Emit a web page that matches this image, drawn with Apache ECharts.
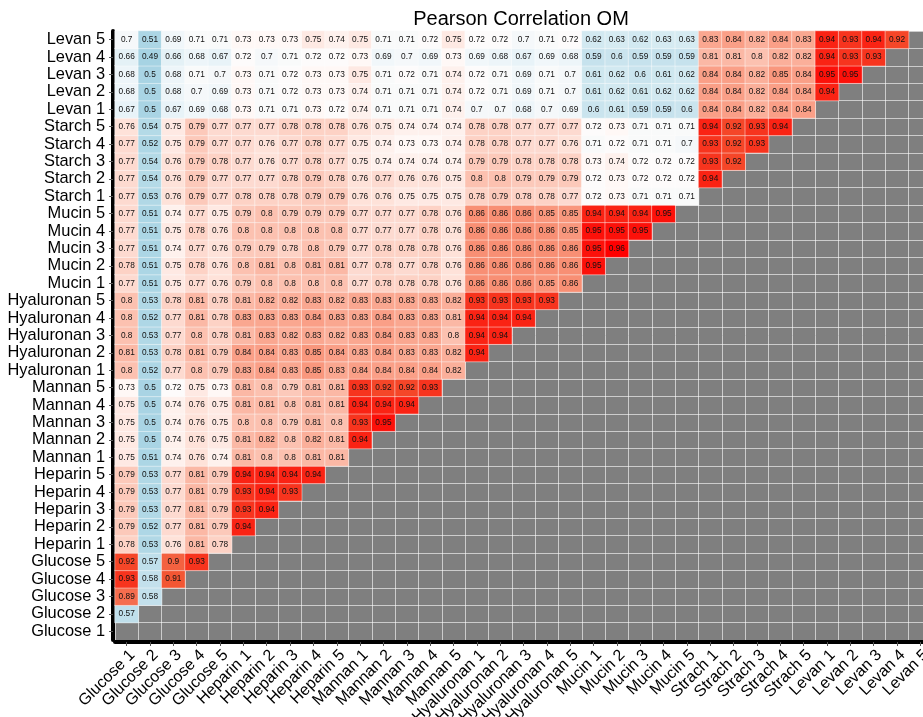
<!DOCTYPE html>
<html>
<head>
<meta charset="utf-8">
<script src="https://cdn.jsdelivr.net/npm/echarts@6/dist/echarts.min.js"></script>
<style>
  html, body { margin: 0; padding: 0; background: #ffffff; }
  #chart { width: 923px; height: 717px; }
</style>
</head>
<body>
<div id="chart"></div>
<script>
// Axis categories (y runs bottom to top, x runs left to right)
const yLabels = [
  'Glucose 1', 'Glucose 2', 'Glucose 3', 'Glucose 4', 'Glucose 5',
  'Heparin 1', 'Heparin 2', 'Heparin 3', 'Heparin 4', 'Heparin 5',
  'Mannan 1', 'Mannan 2', 'Mannan 3', 'Mannan 4', 'Mannan 5',
  'Hyaluronan 1', 'Hyaluronan 2', 'Hyaluronan 3', 'Hyaluronan 4', 'Hyaluronan 5',
  'Mucin 1', 'Mucin 2', 'Mucin 3', 'Mucin 4', 'Mucin 5',
  'Starch 1', 'Starch 2', 'Starch 3', 'Starch 4', 'Starch 5',
  'Levan 1', 'Levan 2', 'Levan 3', 'Levan 4', 'Levan 5'
];
const xLabels = [
  'Glucose 1', 'Glucose 2', 'Glucose 3', 'Glucose 4', 'Glucose 5',
  'Heparin 1', 'Heparin 2', 'Heparin 3', 'Heparin 4', 'Heparin 5',
  'Mannan 1', 'Mannan 2', 'Mannan 3', 'Mannan 4', 'Mannan 5',
  'Hyaluronan 1', 'Hyaluronan 2', 'Hyaluronan 3', 'Hyaluronan 4', 'Hyaluronan 5',
  'Mucin 1', 'Mucin 2', 'Mucin 3', 'Mucin 4', 'Mucin 5',
  'Strach 1', 'Strach 2', 'Strach 3', 'Strach 4', 'Strach 5',
  'Levan 1', 'Levan 2', 'Levan 3', 'Levan 4', 'Levan 5'
];

// Lower-triangle correlations, one array per row (values for x columns 0..row-1)
const glucose1 = [];
const glucose2 = [0.57];
const glucose3 = [0.89, 0.58];
const glucose4 = [0.93, 0.58, 0.91];
const glucose5 = [0.92, 0.57, 0.9, 0.93];
const heparin1 = [0.78, 0.53, 0.76, 0.81, 0.78];
const heparin2 = [0.79, 0.52, 0.77, 0.81, 0.79, 0.94];
const heparin3 = [0.79, 0.53, 0.77, 0.81, 0.79, 0.93, 0.94];
const heparin4 = [0.79, 0.53, 0.77, 0.81, 0.79, 0.93, 0.94, 0.93];
const heparin5 = [0.79, 0.53, 0.77, 0.81, 0.79, 0.94, 0.94, 0.94, 0.94];
const mannan1 = [0.75, 0.51, 0.74, 0.76, 0.74, 0.81, 0.8, 0.8, 0.81, 0.81];
const mannan2 = [0.75, 0.5, 0.74, 0.76, 0.75, 0.81, 0.82, 0.8, 0.82, 0.81, 0.94];
const mannan3 = [0.75, 0.5, 0.74, 0.76, 0.75, 0.8, 0.8, 0.79, 0.81, 0.8, 0.93, 0.95];
const mannan4 = [0.75, 0.5, 0.74, 0.76, 0.75, 0.81, 0.81, 0.8, 0.81, 0.81, 0.94, 0.94, 0.94];
const mannan5 = [0.73, 0.5, 0.72, 0.75, 0.73, 0.81, 0.8, 0.79, 0.81, 0.81, 0.93, 0.92, 0.92, 0.93];
const hyaluronan1 = [0.8, 0.52, 0.77, 0.8, 0.79, 0.83, 0.84, 0.83, 0.85, 0.83, 0.84, 0.84, 0.84, 0.84, 0.82];
const hyaluronan2 = [0.81, 0.53, 0.78, 0.81, 0.79, 0.84, 0.84, 0.83, 0.85, 0.84, 0.83, 0.84, 0.83, 0.83, 0.82, 0.94];
const hyaluronan3 = [0.8, 0.53, 0.77, 0.8, 0.78, 0.81, 0.83, 0.82, 0.83, 0.82, 0.83, 0.84, 0.83, 0.83, 0.8, 0.94, 0.94];
const hyaluronan4 = [0.8, 0.52, 0.77, 0.81, 0.78, 0.83, 0.83, 0.83, 0.84, 0.83, 0.83, 0.84, 0.83, 0.83, 0.81, 0.94, 0.94, 0.94];
const hyaluronan5 = [0.8, 0.53, 0.78, 0.81, 0.78, 0.81, 0.82, 0.82, 0.83, 0.82, 0.83, 0.83, 0.83, 0.83, 0.82, 0.93, 0.93, 0.93, 0.93];
const mucin1 = [0.77, 0.51, 0.75, 0.77, 0.76, 0.79, 0.8, 0.8, 0.8, 0.8, 0.77, 0.78, 0.78, 0.78, 0.76, 0.86, 0.86, 0.86, 0.85, 0.86];
const mucin2 = [0.78, 0.51, 0.75, 0.78, 0.76, 0.8, 0.81, 0.8, 0.81, 0.81, 0.77, 0.78, 0.77, 0.78, 0.76, 0.86, 0.86, 0.86, 0.86, 0.86, 0.95];
const mucin3 = [0.77, 0.51, 0.74, 0.77, 0.76, 0.79, 0.79, 0.78, 0.8, 0.79, 0.77, 0.78, 0.78, 0.78, 0.76, 0.86, 0.86, 0.86, 0.86, 0.86, 0.95, 0.96];
const mucin4 = [0.77, 0.51, 0.75, 0.78, 0.76, 0.8, 0.8, 0.8, 0.8, 0.8, 0.77, 0.77, 0.77, 0.78, 0.76, 0.86, 0.86, 0.86, 0.86, 0.85, 0.95, 0.95, 0.95];
const mucin5 = [0.77, 0.51, 0.74, 0.77, 0.75, 0.79, 0.8, 0.79, 0.79, 0.79, 0.77, 0.77, 0.77, 0.78, 0.76, 0.86, 0.86, 0.86, 0.85, 0.85, 0.94, 0.94, 0.94, 0.95];
const starch1 = [0.77, 0.53, 0.76, 0.79, 0.77, 0.78, 0.78, 0.78, 0.79, 0.79, 0.76, 0.76, 0.75, 0.75, 0.75, 0.78, 0.79, 0.78, 0.78, 0.77, 0.72, 0.73, 0.71, 0.71, 0.71];
const starch2 = [0.77, 0.54, 0.76, 0.79, 0.77, 0.77, 0.77, 0.78, 0.79, 0.78, 0.76, 0.77, 0.76, 0.76, 0.75, 0.8, 0.8, 0.79, 0.79, 0.79, 0.72, 0.73, 0.72, 0.72, 0.72, 0.94];
const starch3 = [0.77, 0.54, 0.76, 0.79, 0.78, 0.77, 0.76, 0.77, 0.78, 0.77, 0.75, 0.74, 0.74, 0.74, 0.74, 0.79, 0.79, 0.78, 0.78, 0.78, 0.73, 0.74, 0.72, 0.72, 0.72, 0.93, 0.92];
const starch4 = [0.77, 0.52, 0.75, 0.79, 0.77, 0.77, 0.76, 0.77, 0.78, 0.77, 0.75, 0.74, 0.73, 0.73, 0.74, 0.78, 0.78, 0.77, 0.77, 0.76, 0.71, 0.72, 0.71, 0.71, 0.7, 0.93, 0.92, 0.93];
const starch5 = [0.76, 0.54, 0.75, 0.79, 0.77, 0.77, 0.77, 0.78, 0.78, 0.78, 0.76, 0.75, 0.74, 0.74, 0.74, 0.78, 0.78, 0.77, 0.77, 0.77, 0.72, 0.73, 0.71, 0.71, 0.71, 0.94, 0.92, 0.93, 0.94];
const levan1 = [0.67, 0.5, 0.67, 0.69, 0.68, 0.73, 0.71, 0.71, 0.73, 0.72, 0.74, 0.71, 0.71, 0.71, 0.74, 0.7, 0.7, 0.68, 0.7, 0.69, 0.6, 0.61, 0.59, 0.59, 0.6, 0.84, 0.84, 0.82, 0.84, 0.84];
const levan2 = [0.68, 0.5, 0.68, 0.7, 0.69, 0.73, 0.71, 0.72, 0.73, 0.73, 0.74, 0.71, 0.71, 0.71, 0.74, 0.72, 0.71, 0.69, 0.71, 0.7, 0.61, 0.62, 0.61, 0.62, 0.62, 0.84, 0.84, 0.82, 0.84, 0.84, 0.94];
const levan3 = [0.68, 0.5, 0.68, 0.71, 0.7, 0.73, 0.71, 0.72, 0.73, 0.73, 0.75, 0.71, 0.72, 0.71, 0.74, 0.72, 0.71, 0.69, 0.71, 0.7, 0.61, 0.62, 0.6, 0.61, 0.62, 0.84, 0.84, 0.82, 0.85, 0.84, 0.95, 0.95];
const levan4 = [0.66, 0.49, 0.66, 0.68, 0.67, 0.72, 0.7, 0.71, 0.72, 0.72, 0.73, 0.69, 0.7, 0.69, 0.73, 0.69, 0.68, 0.67, 0.69, 0.68, 0.59, 0.6, 0.59, 0.59, 0.59, 0.81, 0.81, 0.8, 0.82, 0.82, 0.94, 0.93, 0.93];
const levan5 = [0.7, 0.51, 0.69, 0.71, 0.71, 0.73, 0.73, 0.73, 0.75, 0.74, 0.75, 0.71, 0.71, 0.72, 0.75, 0.72, 0.72, 0.7, 0.71, 0.72, 0.62, 0.63, 0.62, 0.63, 0.63, 0.83, 0.84, 0.82, 0.84, 0.83, 0.94, 0.93, 0.94, 0.92];

const rows = [
  glucose1, glucose2, glucose3, glucose4, glucose5,
  heparin1, heparin2, heparin3, heparin4, heparin5,
  mannan1, mannan2, mannan3, mannan4, mannan5,
  hyaluronan1, hyaluronan2, hyaluronan3, hyaluronan4, hyaluronan5,
  mucin1, mucin2, mucin3, mucin4, mucin5,
  starch1, starch2, starch3, starch4, starch5,
  levan1, levan2, levan3, levan4, levan5
];

// [xIndex, yIndex, value] triples for the heatmap
const cells = [];
rows.forEach((row, y) => {
  row.forEach((v, x) => cells.push([x, y, v]));
});

const FONT = '"Liberation Sans", Arial, sans-serif';

const chart = echarts.init(document.getElementById('chart'), null, { renderer: 'canvas' });
chart.setOption({
  animation: false,
  backgroundColor: '#ffffff',
  title: {
    text: 'Pearson Correlation OM',
    left: 516,
    top: 4,
    textAlign: 'center',
    textStyle: { fontFamily: FONT, fontSize: 20, fontWeight: 'normal', color: '#000' }
  },
  grid: {
    left: 115,
    top: 31,
    width: 817,
    height: 609,
    containLabel: false,
    outerBoundsMode: 'none',
    show: true,
    backgroundColor: '#7f7f7f',
    borderWidth: 0
  },
  xAxis: {
    type: 'category',
    data: xLabels,
    offset: 2,
    axisLine: { show: true, lineStyle: { color: '#000', width: 4 } },
    axisTick: { show: true, alignWithLabel: true, length: 4, lineStyle: { color: '#555', width: 1 } },
    axisLabel: {
      rotate: 45, interval: 0, margin: 5, verticalAlign: 'top',
      fontFamily: FONT, fontSize: 16, color: '#000'
    },
    splitLine: { show: true, interval: 0, lineStyle: { color: 'rgba(255,255,255,0.6)', width: 1 } }
  },
  yAxis: {
    type: 'category',
    data: yLabels,
    offset: 2,
    axisLine: { show: true, lineStyle: { color: '#000', width: 4 } },
    axisTick: { show: true, alignWithLabel: true, length: 4, lineStyle: { color: '#555', width: 1 } },
    axisLabel: { interval: 0, margin: 8, fontFamily: FONT, fontSize: 16.4, color: '#000' },
    splitLine: { show: true, interval: 0, lineStyle: { color: 'rgba(255,255,255,0.6)', width: 1 } }
  },
  visualMap: {
    show: false,
    type: 'continuous',
    min: 0.49,
    max: 0.96,
    dimension: 2,
    inRange: {
      color: ['#a6d3e3', '#b3d9e7', '#c4e1ec', '#d6ebf2', '#ecf5f9', '#fffcfb',
              '#fdd9ce', '#fbb09b', '#f88a6e', '#f3522f', '#ff0000']
    }
  },
  series: [{
    type: 'heatmap',
    data: cells,
    itemStyle: { borderColor: 'rgba(255,255,255,0.75)', borderWidth: 0.6 },
    label: {
      show: true,
      formatter: p => String(p.value[2]),
      fontFamily: FONT,
      fontSize: 8.3,
      color: '#111'
    },
    emphasis: { disabled: true }
  }]
});
</script>
</body>
</html>
